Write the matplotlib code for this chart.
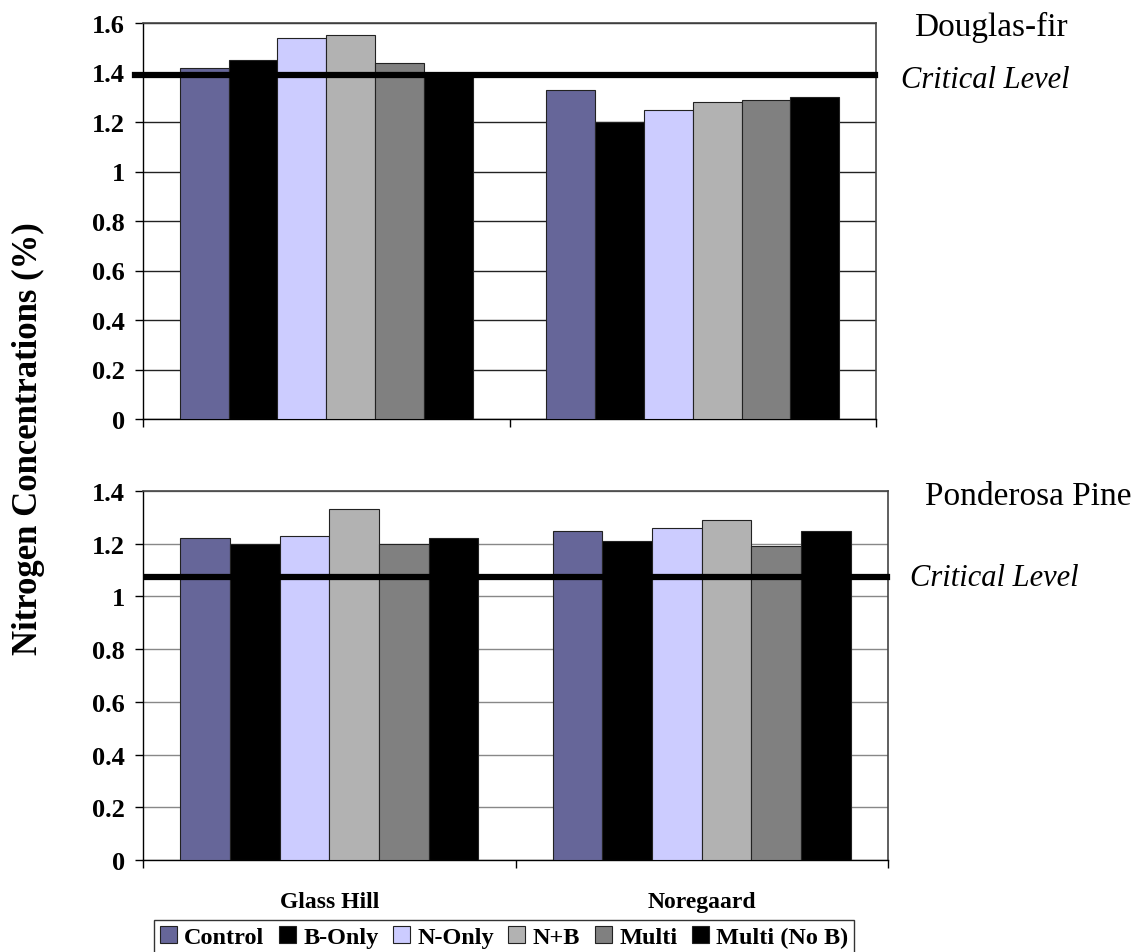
import matplotlib
matplotlib.use("Agg")
import matplotlib.pyplot as plt
import numpy as np
from matplotlib.patches import Patch

plt.rcParams['font.family'] = ['Liberation Serif', 'DejaVu Serif']

sites = ["Glass Hill", "Noregaard"]
treatments = ["Control", "B-Only", "N-Only", "N+B", "Multi", "Multi (No B)"]
colors = ["#666699", "#000000", "#CCCCFF", "#B2B2B2", "#808080", "#000000"]

douglas_fir = {
    "Control": [1.42, 1.33],
    "B-Only": [1.45, 1.20],
    "N-Only": [1.54, 1.25],
    "N+B": [1.55, 1.28],
    "Multi": [1.44, 1.29],
    "Multi (No B)": [1.40, 1.30],
}
ponderosa_pine = {
    "Control": [1.22, 1.25],
    "B-Only": [1.20, 1.21],
    "N-Only": [1.23, 1.26],
    "N+B": [1.33, 1.29],
    "Multi": [1.20, 1.19],
    "Multi (No B)": [1.22, 1.25],
}
critical_df = 1.39
critical_pp = 1.075

W, H = 1139, 953
fig = plt.figure(figsize=(W / 100, H / 100), dpi=100)

def fx(px):
    return px / W

def fy(py):
    return 1 - py / H

ax1 = fig.add_axes([fx(143), fy(420), (876 - 143) / W, (420 - 24) / H])
ax2 = fig.add_axes([fx(143), fy(861), (888 - 143) / W, (861 - 492) / H])

x = np.arange(len(sites))
group_w = 0.80
bw = group_w / len(treatments)

def draw(ax, data, ymax, crit, cxmin, cxmax, gridcolor, spinecolor):
    for i, t in enumerate(treatments):
        ax.bar(x - group_w / 2 + bw * (i + 0.5), data[t], width=bw,
               color=colors[i], edgecolor="#222222", linewidth=0.8, zorder=3)
    ax.set_xlim(-0.5, 1.5)
    ax.set_ylim(0, ymax)
    ticks = np.round(np.arange(0, ymax + 0.001, 0.2), 1)
    ax.set_yticks(ticks)
    ax.set_yticklabels([("%g" % t) for t in ticks], fontweight="bold", fontsize=19)
    ax.yaxis.grid(True, color=gridcolor, linewidth=1.0, zorder=0)
    ax.set_axisbelow(True)
    ax.set_xticks([-0.5, 0.5, 1.5])
    ax.set_xticklabels([])
    ax.tick_params(axis="both", direction="out", length=6, width=1.0, color="black")
    ax.tick_params(axis="y", pad=7)
    for s in ["top", "right"]:
        ax.spines[s].set_color(spinecolor)
        ax.spines[s].set_linewidth(1.2)
    for s in ["left", "bottom"]:
        ax.spines[s].set_color("black")
        ax.spines[s].set_linewidth(1.0)
    ax.axhline(crit, xmin=cxmin, xmax=cxmax, color="black", linewidth=4.5,
               zorder=5, clip_on=False)

draw(ax1, douglas_fir, 1.6, critical_df, -0.011, 0.998, "#222222", "#444444")
draw(ax2, ponderosa_pine, 1.4, critical_pp, 0.005, 0.999, "#888888", "#444444")

ax2.set_xticks([-0.5, 0.5, 1.5])
ax2.set_xticks(x, minor=True)
ax2.set_xticklabels(sites, minor=True, fontweight="bold", fontsize=17)
ax2.tick_params(axis="x", which="minor", length=0, pad=22)

fig.text(fx(28), fy(439), "Nitrogen Concentrations (%)", rotation=90,
         ha="center", va="center", fontweight="bold", fontsize=25)

fig.text(fx(991), fy(27), "Douglas-fir", ha="center", va="center", fontsize=24)
fig.text(fx(985), fy(80), "Critical Level", ha="center", va="center",
         fontsize=22, style="italic")
fig.text(fx(1028), fy(497), "Ponderosa Pine", ha="center", va="center", fontsize=24)
fig.text(fx(994), fy(579), "Critical Level", ha="center", va="center",
         fontsize=22, style="italic")

handles = [Patch(facecolor=c, edgecolor="#222222", linewidth=0.8) for c in colors]
leg = fig.legend(handles, treatments, loc="center", ncol=6,
                 bbox_to_anchor=(fx(504), fy(938)),
                 prop={"weight": "bold", "size": 17.5},
                 handlelength=0.7, handleheight=0.7, handletextpad=0.3,
                 columnspacing=0.6, borderpad=0.25, frameon=True, fancybox=False)
leg.get_frame().set_edgecolor("black")
leg.get_frame().set_linewidth(1.0)

fig.savefig("out.png", dpi=100)
